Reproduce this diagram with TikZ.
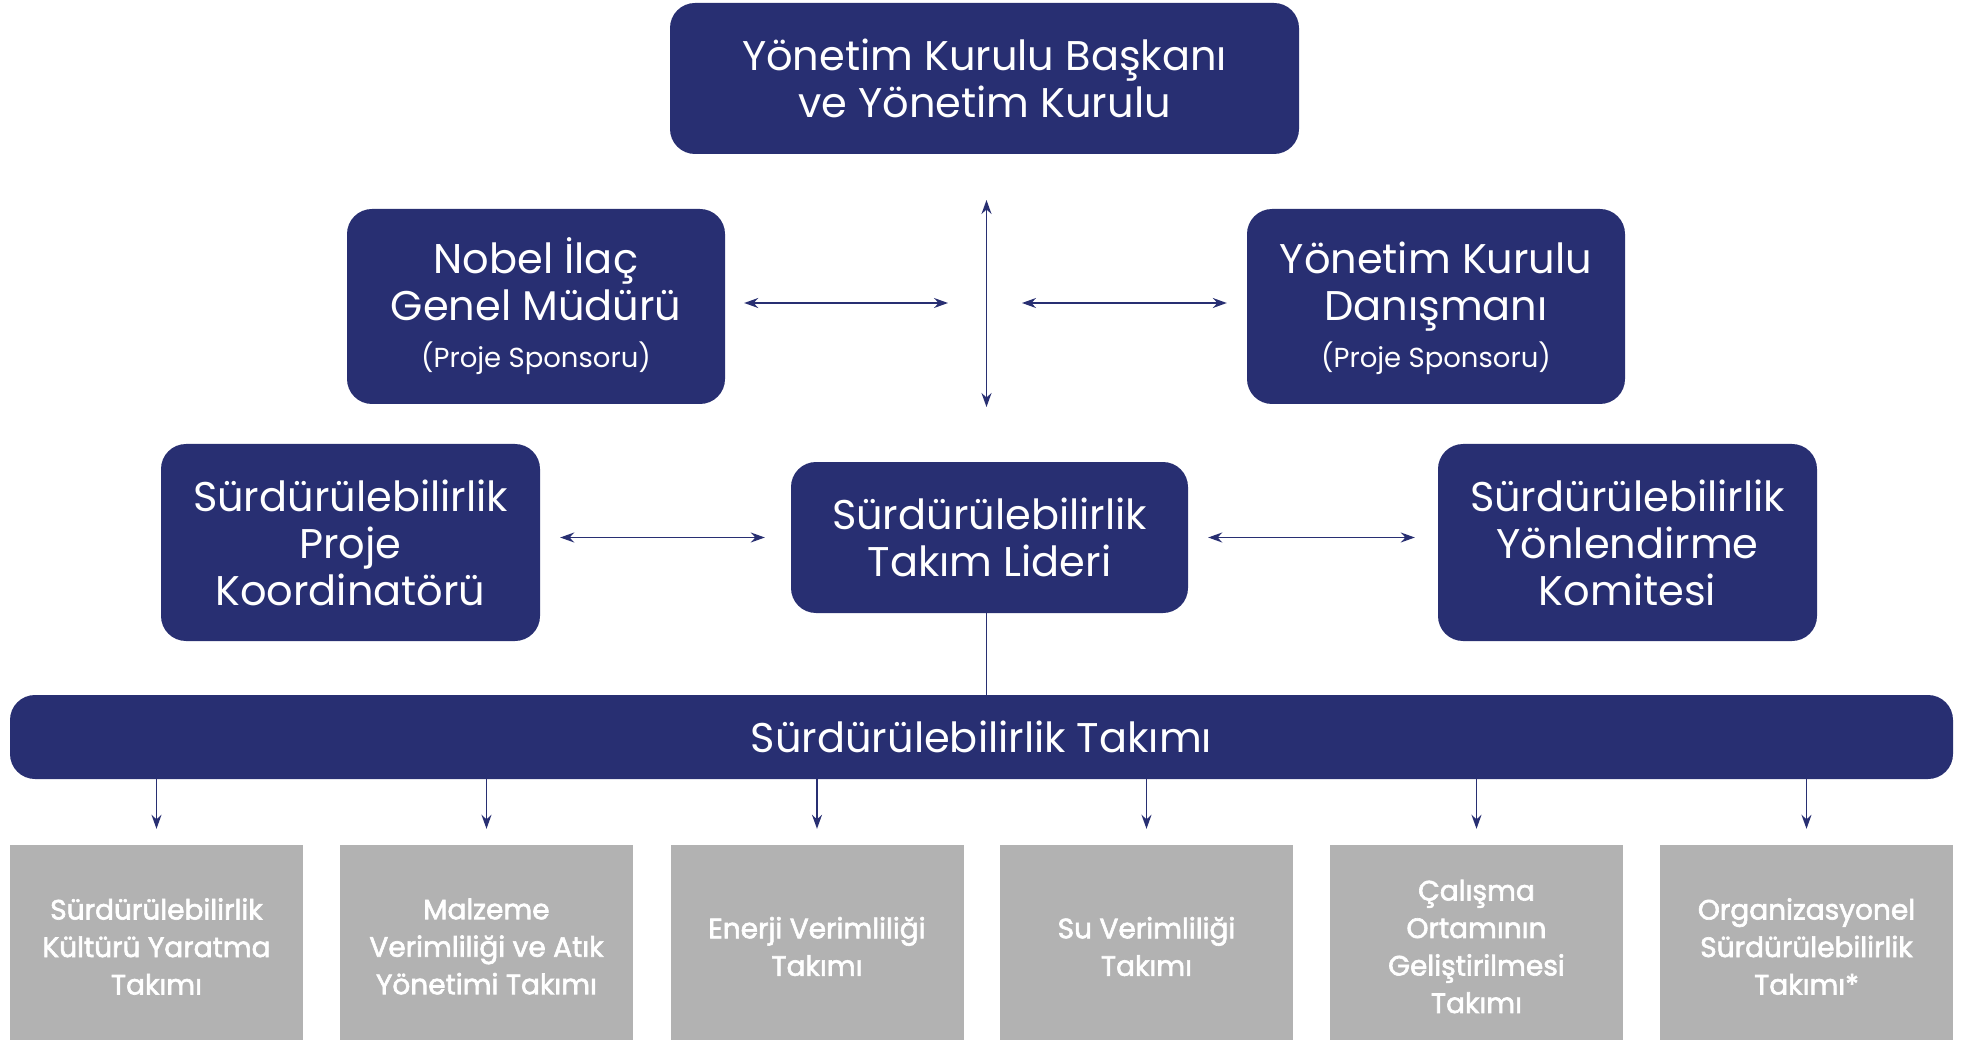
\documentclass[tikz,border=0pt]{standalone}
\usepackage{fontspec}
\setmainfont{Poppins}
\newfontfamily\semib{Poppins}[FakeBold=2.2]
\usetikzlibrary{arrows.meta}
\definecolor{navy}{HTML}{282F72}
\definecolor{boxgray}{HTML}{B2B2B2}
\begin{document}
\begin{tikzpicture}[x=1pt,y=-1pt,
  mainbox/.style={rectangle, rounded corners=25pt, fill=navy, text=white, align=center, inner sep=0pt, font=\fontsize{41.5}{47}\selectfont},
  teambox/.style={rectangle, fill=boxgray, text=white, align=center, inner sep=0pt, minimum width=293pt, minimum height=203pt, font=\semib\fontsize{28}{37.5}\selectfont},
  link/.style={draw=navy, line width=1.5pt, {Stealth[length=14pt,width=10pt]}-{Stealth[length=14pt,width=10pt]}},
  down/.style={draw=navy, line width=1.5pt, -{Stealth[length=14pt,width=10pt]}}
]
\useasboundingbox (0,0) rectangle (1963,1040);

\node[mainbox, minimum width=629pt, minimum height=151pt] (top) at (984.5,78.5) {Yönetim Kurulu Başkanı\\ve Yönetim Kurulu};
\node[mainbox, minimum width=378pt, minimum height=195pt] (nobel) at (536,306.5) {Nobel İlaç\\Genel Müdürü\\[0pt]{\fontsize{27.5}{30}\selectfont (Proje Sponsoru)}};
\node[mainbox, minimum width=378pt, minimum height=195pt] (dan) at (1436,306.5) {\vphantom{İ}Yönetim Kurulu\\Danışmanı\\[0pt]{\fontsize{27.5}{30}\selectfont (Proje Sponsoru)}};
\node[mainbox, minimum width=379pt, minimum height=197pt] (koord) at (350.5,542.5) {Sürdürülebilirlik\\Proje\\Koordinatörü};
\node[mainbox, minimum width=397pt, minimum height=151pt] (lider) at (989.5,537.5) {Sürdürülebilirlik\\Takım Lideri};
\node[mainbox, minimum width=379pt, minimum height=197pt] (komite) at (1627.5,542.5) {Sürdürülebilirlik\\Yönlendirme\\Komitesi};
\node[mainbox, minimum width=1943pt, minimum height=84pt] (bar) at (981.5,737) {Sürdürülebilirlik Takımı};

\node[teambox] (t1) at (156.5,946.5) {Sürdürülebilirlik\\Kültürü Yaratma\\Takımı};
\node[teambox] (t2) at (486.5,946.5) {Malzeme\\Verimliliği ve Atık\\Yönetimi Takımı};
\node[teambox] (t3) at (817,946.5) {Enerji Verimliliği\\Takımı};
\node[teambox] (t4) at (1146.5,946.5) {Su Verimliliği\\Takımı};
\node[teambox] (t5) at (1476.5,946.5) {Çalışma\\Ortamının\\Geliştirilmesi\\Takımı};
\node[teambox] (t6) at (1806.5,946.5) {Organizasyonel\\Sürdürülebilirlik\\Takımı*};

\coordinate (vtop) at (986.5,200);
\coordinate (vbot) at (986.5,407);
\coordinate (hl) at (948,303);
\coordinate (hr) at (1022,303);

\draw[link] (vtop) -- (vbot);
\draw[link, shorten <=19pt] (nobel.east |- hl) -- (hl);
\draw[link, shorten >=20pt] (hr) -- (dan.west |- hr);
\draw[link, shorten <=20pt, shorten >=26pt] (koord.east |- lider.west) -- (lider.west);
\draw[link, shorten <=20pt, shorten >=23pt] (lider.east) -- (komite.west |- lider.east);
\draw[draw=navy, line width=1.5pt] (lider.south -| vtop) -- (bar.north -| vtop);
\foreach \t in {t1,t2,t3,t4,t5,t6}{
  \draw[down, shorten >=16pt] (bar.south -| \t.north) -- (\t.north);
}
\end{tikzpicture}
\end{document}
